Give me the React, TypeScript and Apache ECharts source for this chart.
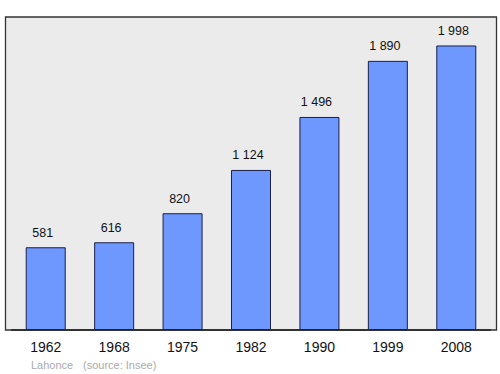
import React, { useEffect, useRef } from "react";
import * as echarts from "echarts";

const years = ["1962", "1968", "1975", "1982", "1990", "1999", "2008"];
const population = [581, 616, 820, 1124, 1496, 1890, 1998];
const valueLabels = ["581", "616", "820", "1 124", "1 496", "1 890", "1 998"];
const footerName = "Lahonce";
const footerSource = "(source: Insee)";

export default function App() {
  const ref = useRef<HTMLDivElement>(null);
  useEffect(() => {
    if (!ref.current) return;
    const chart = echarts.init(ref.current, null, { renderer: "svg" });
    chart.setOption({
      animation: false,
      backgroundColor: "#ffffff",
      textStyle: { fontFamily: "Liberation Sans, Arial, sans-serif" },
      graphic: [
        {
          type: "rect",
          shape: { x: 5.5, y: 17, width: 491, height: 313 },
          style: { fill: "#ebebeb", stroke: "#333333", lineWidth: 1.3 },
          z: -10,
        },
        {
          type: "text",
          x: 31,
          y: 365,
          style: {
            text: footerName,
            fill: "#aaaaaa",
            fontSize: 11,
            fontFamily: "Liberation Sans, Arial, sans-serif",
            verticalAlign: "middle",
          },
        },
        {
          type: "text",
          x: 83,
          y: 365,
          style: {
            text: footerSource,
            fill: "#aaaaaa",
            fontSize: 11,
            fontFamily: "Liberation Sans, Arial, sans-serif",
            verticalAlign: "middle",
          },
        },
      ],
      grid: { left: 11.5, right: 9.5, top: 17, bottom: 44 },
      xAxis: {
        type: "category",
        data: years,
        axisLine: { show: true, lineStyle: { color: "#222222", width: 1.5 } },
        axisTick: { show: false },
        axisLabel: { color: "#111111", fontSize: 14, margin: 10 },
      },
      yAxis: {
        type: "value",
        min: 0,
        max: 2198,
        show: false,
        splitLine: { show: false },
      },
      series: [
        {
          type: "bar",
          data: population,
          barWidth: 40,
          itemStyle: { color: "#6f98ff", borderColor: "#1a1f4a", borderWidth: 1 },
          label: {
            show: true,
            position: "top",
            distance: 8,
            offset: [-3, 0],
            color: "#111111",
            fontSize: 12.5,
            formatter: (p: any) => valueLabels[p.dataIndex],
          },
        },
      ],
    });
    return () => chart.dispose();
  }, []);
  return <div ref={ref} style={{ width: 500, height: 374, position: "absolute", left: 0, top: 0 }} />;
}
